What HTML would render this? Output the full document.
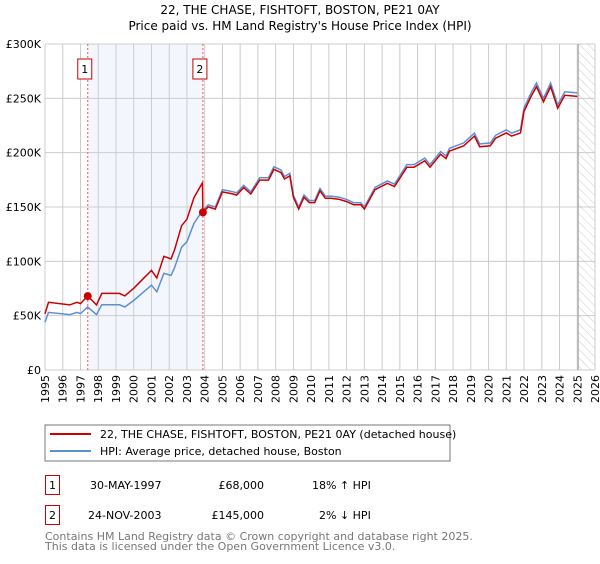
<!DOCTYPE html>
<html><head><meta charset="utf-8"><style>
body{margin:0;background:#fff;width:600px;height:560px;overflow:hidden;font-family:"DejaVu Sans","Liberation Sans",sans-serif}
svg text{font-family:"DejaVu Sans","Liberation Sans",sans-serif}
</style></head><body>
<svg id="c" width="600" height="560">
<defs><pattern id="hatch" width="6" height="6" patternUnits="userSpaceOnUse" patternTransform="rotate(-45)"><line x1="0" y1="0" x2="0" y2="6" stroke="#ccc" stroke-width="1"/></pattern></defs>
<text x="300" y="14" text-anchor="middle" font-size="12">22, THE CHASE, FISHTOFT, BOSTON, PE21 0AY</text>
<text x="300" y="30" text-anchor="middle" font-size="12">Price paid vs. HM Land Registry's House Price Index (HPI)</text>
<g id="grid"></g><g id="marks"></g><g id="axes"></g>
<rect x="45" y="425" width="405" height="36" fill="#fff" stroke="#777"/>
<line x1="50" y1="434" x2="91" y2="434" stroke="#cc0000" stroke-width="2"/>
<text x="100" y="438" font-size="11">22, THE CHASE, FISHTOFT, BOSTON, PE21 0AY (detached house)</text>
<line x1="50" y1="451" x2="91" y2="451" stroke="#5b8fd6" stroke-width="2"/>
<text x="100" y="455" font-size="11">HPI: Average price, detached house, Boston</text>
<g font-size="11">
<rect x="45.5" y="475.5" width="14" height="19" fill="#fff" stroke="#cc0000"/>
<text x="52.5" y="489" text-anchor="middle">1</text>
<text x="90" y="489">30-MAY-1997</text><text x="264" y="489" text-anchor="end">£68,000</text><text x="312" y="489">18% ↑ HPI</text>
<rect x="45.5" y="505.5" width="14" height="19" fill="#fff" stroke="#cc0000"/>
<text x="52.5" y="519" text-anchor="middle">2</text>
<text x="88" y="519">24-NOV-2003</text><text x="264" y="519" text-anchor="end">£145,000</text><text x="319" y="519">2% ↓ HPI</text>
</g>
<text x="45" y="540" font-size="11" fill="#777">Contains HM Land Registry data © Crown copyright and database right 2025.</text>
<text x="45" y="550" font-size="11" fill="#777">This data is licensed under the Open Government Licence v3.0.</text>
</svg>
<script>
const hpiYears=[1995.0,1995.2,1996.4,1996.8,1997.0,1997.4,1997.9,1998.2,1999.2,1999.5,2000.0,2000.5,2001.0,2001.3,2001.7,2002.1,2002.3,2002.7,2003.0,2003.4,2003.85,2004.2,2004.6,2005.0,2005.6,2005.8,2006.2,2006.6,2007.1,2007.6,2007.9,2008.3,2008.5,2008.8,2009.0,2009.3,2009.6,2009.9,2010.2,2010.5,2010.8,2011.1,2011.6,2012.0,2012.4,2012.8,2013.0,2013.6,2014.3,2014.7,2015.4,2015.8,2016.4,2016.7,2017.3,2017.6,2017.8,2018.6,2019.2,2019.5,2020.1,2020.4,2021.0,2021.3,2021.8,2022.0,2022.4,2022.7,2023.1,2023.5,2023.9,2024.3,2025.0];
const hpiValues=[44,53,51,53,52,58,51,60,60,58,64,71,78,72,89,87,94,113,118,135,146,152,150,166,164,163,170,164,177,177,187,184,178,181,161,150,161,156,156,167,160,160,159,157,154,154,150,168,174,171,189,189,195,189,201,197,204,209,218,208,209,216,221,218,221,241,255,264,250,264,244,256,255];
const saleYears=[1997.41,2003.9];
const salePrices=[68,145];
const yTicks=[0,50,100,150,200,250,300];
const yTickLabels=["£0","£50K","£100K","£150K","£200K","£250K","£300K"];
const xTicks=[];for(let y=1995;y<=2026;y++)xTicks.push(y);
const L=45,R=595,T=44,B=370,Y0=1995,Y1=2026,VMAX=300;
const sx=y=>L+(y-Y0)/(Y1-Y0)*(R-L);
const sy=v=>B-v/VMAX*(B-T);
const NS="http://www.w3.org/2000/svg";
function mk(tag,attrs,parent){const e=document.createElementNS(NS,tag);for(const k in attrs)e.setAttribute(k,attrs[k]);parent.appendChild(e);return e;}
const grid=document.getElementById('grid'),marks=document.getElementById('marks'),axes=document.getElementById('axes');
let band=mk('rect',{x:sx(saleYears[0]),y:T,width:sx(saleYears[1])-sx(saleYears[0]),height:B-T,fill:'#eef3fc',opacity:0.7},grid);


let hz=mk('rect',{x:sx(2025.05),y:T,width:R-sx(2025.05),height:B-T,fill:'url(#hatch)'},grid);


xTicks.forEach(y=>{const l=mk('line',{x1:sx(y),x2:sx(y),y1:T,y2:B,stroke:'#ccc'},grid);


const t=mk('text',{x:0,y:0,'font-size':11,'text-anchor':'end',transform:`translate(${sx(y)+4},${B+5}) rotate(-90)`},axes);t.textContent=y;

});
yTicks.forEach((v,i)=>{const l=mk('line',{x1:L,x2:R,y1:sy(v),y2:sy(v),stroke:'#ccc'},grid);


const t=mk('text',{x:L-4,y:sy(v)+4,'font-size':11,'text-anchor':'end'},axes);t.textContent=yTickLabels[i];

});
let el=mk('line',{x1:sx(2025.05),x2:sx(2025.05),y1:T,y2:B,stroke:'#999','stroke-width':1},grid);


saleYears.forEach((y,i)=>{const l=mk('line',{x1:sx(y),x2:sx(y),y1:T,y2:B,stroke:'#e55','stroke-dasharray':'2,2','stroke-width':1},grid);


const bx=sx(y)-10;
const r=mk('rect',{x:bx,y:59,width:14,height:20,fill:'#fff',stroke:'#cc0000'},axes);


const t=mk('text',{x:bx+7,y:73,'font-size':11,'text-anchor':'middle'},axes);t.textContent=String(i+1);});
function hpiAt(y){for(let i=0;i<hpiYears.length-1;i++){if(y<=hpiYears[i+1]){const f=(y-hpiYears[i])/(hpiYears[i+1]-hpiYears[i]);return hpiValues[i]+f*(hpiValues[i+1]-hpiValues[i]);}}return hpiValues[hpiValues.length-1];}
const hp=mk('path',{d:hpiYears.map((y,i)=>(i?'L':'M')+sx(y).toFixed(1)+','+sy(hpiValues[i]).toFixed(1)).join(''),fill:'none',stroke:'#5b8fd6','stroke-width':1.5},marks);


const r1=salePrices[0]/hpiAt(saleYears[0]),r2=salePrices[1]/hpiAt(saleYears[1]);
let pts=[];hpiYears.forEach((y,i)=>{if(y<saleYears[1])pts.push([y,hpiValues[i]*r1]);});
pts.push([saleYears[1]-0.02,hpiAt(saleYears[1]-0.02)*r1]);pts.push([saleYears[1],salePrices[1]]);
hpiYears.forEach((y,i)=>{if(y>saleYears[1])pts.push([y,hpiValues[i]*r2]);});
const pp=mk('path',{d:pts.map((p,i)=>(i?'L':'M')+sx(p[0]).toFixed(1)+','+sy(p[1]).toFixed(1)).join(''),fill:'none',stroke:'#cc0000','stroke-width':1.5},marks);


saleYears.forEach((y,i)=>{const c=mk('circle',{cx:sx(y),cy:sy(salePrices[i]),r:4,fill:'#cc0000'},marks);

});
</script>
</body></html>
